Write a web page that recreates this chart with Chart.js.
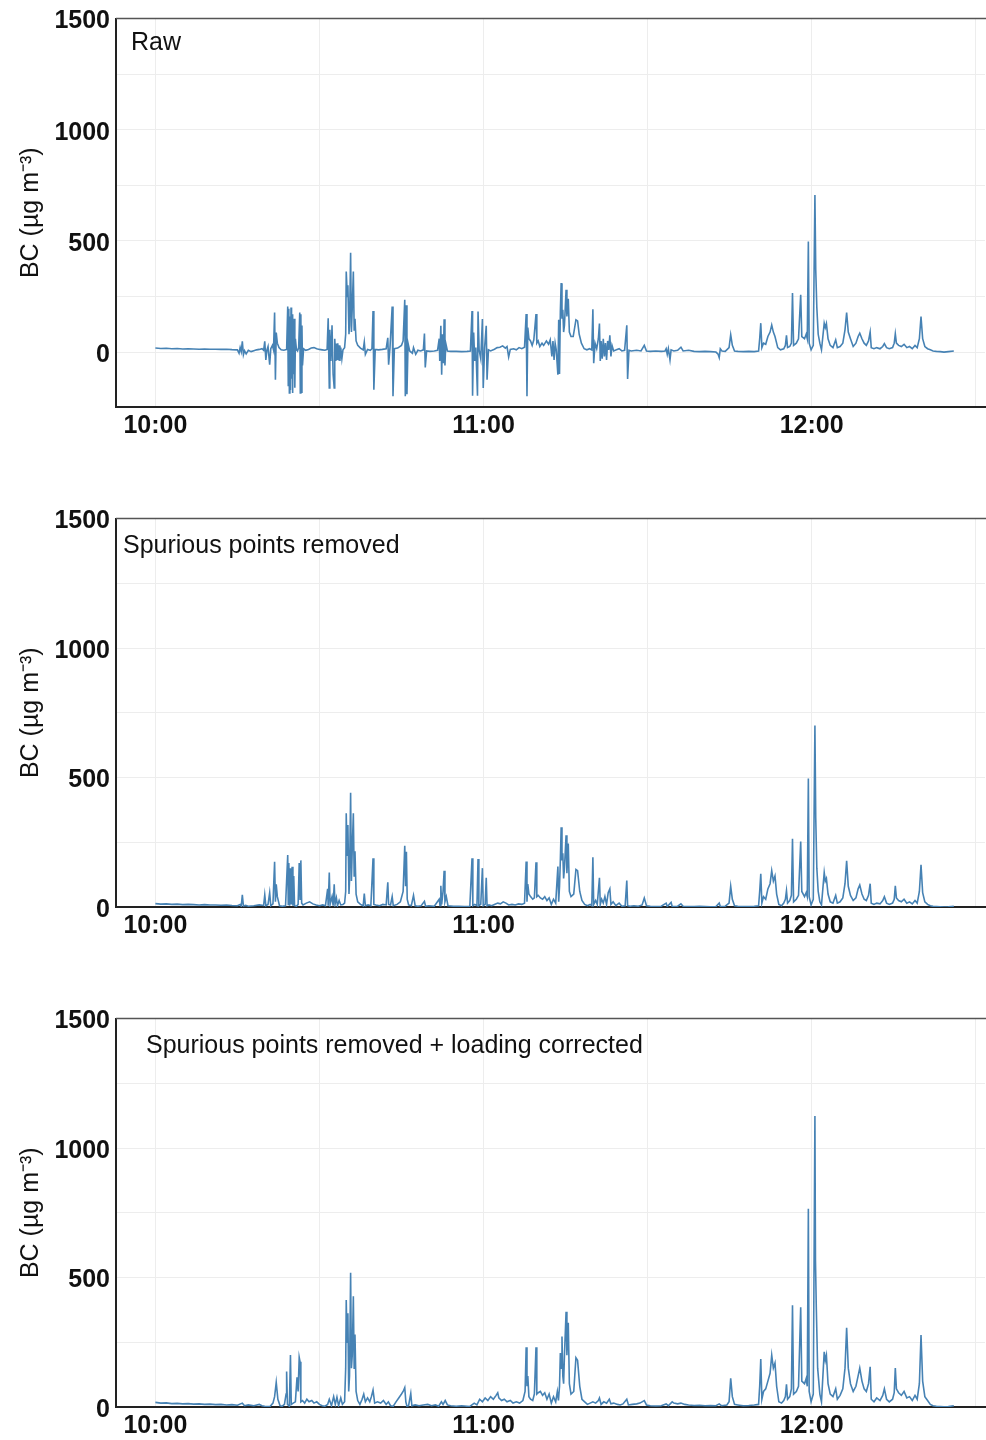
<!DOCTYPE html>
<html>
<head>
<meta charset="utf-8">
<script src="https://cdn.jsdelivr.net/npm/chart.js@4.4.1/dist/chart.umd.min.js"></script>
<style>
    html, body { margin: 0; padding: 0; background: #fff; }
    .panel { position: absolute; left: 0; width: 986px; height: 440px; }
</style>
</head>
<body>
<div class="panel" style="top:0px"><canvas id="graficoRaw" width="986" height="440"></canvas></div>
<div class="panel" style="top:500px"><canvas id="graficoSpurious" width="986" height="440"></canvas></div>
<div class="panel" style="top:1000px"><canvas id="graficoLoading" width="986" height="440"></canvas></div>
<script>
// ================== DATOS ==================
// [minutos desde las 10:00, BC en ug/m3]

const serieRaw = [
    [0,18],[1,16],[2,17],[3,15],[4,16],[5,14],[6,15],[7,14],[8,13],[9,14],[10,13],[11,13],[12,12],[13,13],[14,11],[15,10],
    [15.3,-5],[15.5,20],[15.7,2],[15.9,48],[16.1,-12],[16.3,6],[16.6,-8],[17,8],[17.5,2],[18,6],[18.5,10],[19,12],[19.5,15],[19.8,8],
    [20.0,48],[20.2,-35],[20.4,10],[20.6,25],[20.9,-57],[21.1,15],[21.4,30],[21.6,10],[21.8,178],[21.95,-124],[22.1,88],[22.3,40],[22.6,20],[23,10],[23.5,8],[24,12],
    [24.2,205],[24.3,-150],[24.4,195],[24.5,-184],[24.6,160],[24.7,-170],[24.8,200],[24.9,-120],[25.0,170],[25.1,-184],[25.2,140],[25.3,-100],[25.4,150],[25.5,-160],[25.6,60],[25.8,10],
    [26.0,5],[26.2,20],[26.4,178],[26.5,-184],[26.6,170],[26.7,-180],[26.8,120],[26.9,-60],[27.1,15],[27.5,8],[28,12],[28.5,18],[29,20],[29.5,15],[30,12],[30.5,10],[31,8],[31.4,12],
    [31.6,152],[31.8,-161],[31.9,100],[32.1,-40],[32.3,120],[32.5,-100],[32.7,-161],[32.8,60],[33.0,-40],[33.1,38],[33.2,-35],[33.35,40],[33.5,-38],[33.6,30],[33.75,-40],[33.9,20],[34.1,-30],[34.3,10],[34.6,20],
    [34.8,80],[34.9,362],[35.1,250],[35.2,300],[35.4,80],[35.5,120],[35.7,447],[35.85,90],[36.0,200],[36.2,362],[36.35,100],[36.5,150],[36.7,50],[37,30],[37.5,18],[38,10],[38.2,45],[38.4,-10],[38.8,12],[39.3,8],[39.6,15],
    [39.8,185],[39.95,-169],[40.2,12],[40.8,10],[41.5,12],[42.2,15],[42.5,64],[42.65,-57],[42.9,20],[43.3,205],[43.45,-199],[43.7,15],[44.3,18],[45,30],[45.3,50],
    [45.6,235],[45.7,-199],[45.85,210],[46.0,-190],[46.2,40],[46.5,5],[47,-5],[47.2,20],[47.6,-10],[48,8],[48.5,5],[49.0,10],[49.2,83],[49.35,-69],[49.6,5],[50.2,3],[51,5],[51.6,8],
    [51.9,60],[52.0,-40],[52.2,118],[52.35,-102],[52.5,80],[52.65,-50],[52.8,148],[52.95,-60],[53.1,40],[53.4,5],[54,3],[55,3],[56,2],[57,3],[57.6,5],
    [57.9,185],[58.0,-196],[58.2,88],[58.4,-40],[58.6,20],[58.9,-196],[59.0,182],[59.2,10],[59.5,-30],[59.8,149],[59.95,-161],[60.2,20],[60.5,118],[60.65,-124],[60.9,10],[61.3,5],
    [62,13],[62.5,20],[63,22],[63.5,28],[64,18],[64.3,25],[64.6,-22],[64.9,12],[65.5,15],[66,10],[66.5,20],[67,15],[67.5,22],
    [67.8,171],[67.95,-199],[68.1,110],[68.3,60],[68.6,50],[68.9,30],[69.2,55],[69.6,171],[69.75,40],[70.0,50],[70.3,25],[70.7,40],[71,30],[71.5,50],[71.9,35],[72.2,55],[72.5,-20],[72.7,50],[72.9,-35],[73.1,40],[73.3,10],
    [73.6,-102],[73.75,145],[73.9,-99],[74.05,180],[74.2,310],[74.35,150],[74.5,190],[74.65,90],[74.8,120],[75.1,280],[75.25,160],[75.5,240],[75.7,90],[76,70],[76.4,70],[76.9,145],[77.2,140],[77.5,80],[77.9,40],[78.4,15],[78.9,10],[79.4,15],[79.8,10],
    [80.0,193],[80.15,-50],[80.4,40],[80.7,15],[81.0,60],[81.2,128],[81.35,-40],[81.5,50],[81.7,-30],[81.9,60],[82.1,-20],[82.3,40],[82.5,-35],[82.7,50],[82.9,10],[83.1,75],[83.3,-20],[83.5,30],[83.8,5],
    [84.3,10],[84.8,15],[85.3,5],[85.8,8],[86.2,120],[86.35,-121],[86.6,8],[87,5],[88,8],[88.8,5],[89.4,30],[89.8,5],[90.5,3],[91.5,5],[92.5,3],[93.2,5],[93.4,15],[93.6,-10],[93.8,15],[94.1,-35],[94.3,10],[94.8,5],
    [95.5,8],[96.1,22],[96.5,5],[97.5,8],[98.5,3],[99.5,2],[100.5,3],[101.5,2],[102.5,0],[102.9,-10],[103.1,-25],[103.3,15],[103.6,5],[104.2,3],[104.9,20],[105.2,78],[105.5,30],[105.9,5],
    [106.5,3],[107.5,2],[108.5,3],[109.5,2],[110.3,5],[110.5,60],[110.7,130],[110.9,20],[111.2,40],[111.6,35],[112.0,70],[112.4,90],[112.7,122],[113.0,90],[113.3,70],[113.8,20],[114.3,10],[114.9,15],
    [115.2,30],[115.4,75],[115.6,20],[116.0,25],[116.3,40],[116.5,265],[116.7,30],[117.2,40],[117.6,60],[118.0,258],[118.2,70],[118.7,60],[119.0,80],[119.2,60],[119.4,497],[119.55,40],[119.9,10],[120.3,30],
    [120.6,706],[120.75,370],[120.95,200],[121.2,80],[121.5,40],[121.8,10],[122.3,130],[122.5,110],[122.7,128],[123.0,60],[123.4,30],[123.9,20],[124.4,55],[124.7,20],[125.2,25],[125.7,40],
    [126.1,100],[126.4,178],[126.7,90],[127.1,60],[127.6,25],[128.1,40],[128.5,70],[128.8,85],[129.2,60],[129.6,40],[130.0,30],[130.4,50],[130.7,90],[130.9,20],[131.4,15],[131.9,20],[132.5,15],
    [133.0,25],[133.3,38],[133.7,20],[134.2,15],[134.8,20],[135.1,40],[135.3,82],[135.5,40],[135.9,30],[136.4,25],[136.9,35],[137.4,20],[137.9,25],[138.4,15],[138.9,30],[139.3,20],
    [139.7,60],[140.0,160],[140.3,60],[140.7,25],[141.2,15],[141.7,10],[142.2,5],[142.8,3],[143.5,2],[144.2,0],[145,2],[146,5]
];

const serieSpurious = [
    [0,13],[1,11],[2,12],[3,10],[4,11],[5,9],[6,10],[7,9],[8,8],[9,9],[10,8],[11,8],[12,7],[13,8],[14,6],[15,5],[15.5,10],[15.7,3],[15.9,47],[16.1,4],[16.5,6],[17,3],[18,5],[19,8],[19.8,6],
    [20.0,47],[20.2,5],[20.6,10],[20.9,55],[21.1,5],[21.5,12],[21.8,175],[21.95,20],[22.1,88],[22.3,40],[22.7,5],[23.2,3],[23.8,5],
    [24.2,201],[24.3,10],[24.4,170],[24.55,5],[24.7,150],[24.85,10],[25.0,155],[25.15,5],[25.3,120],[25.45,5],[25.8,3],[26.1,10],[26.3,170],[26.45,30],[26.6,180],[26.75,15],[27.0,8],
    [27.6,15],[28.2,20],[28.8,12],[29.4,8],[30,5],[30.6,8],[31.1,5],[31.5,70],[31.6,5],[31.8,133],[31.95,10],[32.3,40],[32.5,5],[32.7,88],[32.85,10],[33.1,35],[33.3,5],[33.6,25],[33.9,8],[34.3,10],[34.6,15],
    [34.8,60],[34.9,362],[35.05,200],[35.2,317],[35.4,50],[35.5,100],[35.7,441],[35.85,100],[36.0,226],[36.2,362],[36.35,120],[36.5,215],[36.7,50],[37.0,20],[37.5,10],[38.0,5],[38.2,52],[38.4,5],[38.9,8],[39.4,5],
    [39.8,188],[39.95,10],[40.3,8],[41,5],[41.6,10],[42.2,8],[42.5,95],[42.65,10],[43.0,8],[43.3,40],[43.5,5],[44.2,10],[44.8,20],[45.3,60],[45.6,236],[45.75,80],[45.9,213],[46.05,30],[46.3,8],[46.8,5],
    [47.2,45],[47.5,5],[48,3],[48.6,5],[49.2,22],[49.4,3],[50,5],[51,3],[51.9,30],[52.05,5],[52.2,82],[52.35,10],[52.6,60],[52.8,140],[52.95,20],[53.2,40],[53.5,5],[54.5,3],[55.5,3],[56.5,2],[57.5,3],
    [57.9,188],[58.05,5],[58.4,10],[58.8,5],[59.0,185],[59.15,5],[59.5,10],[59.8,150],[59.95,5],[60.3,10],[60.5,113],[60.65,5],[61,8],[61.5,5],[62,10],[62.6,15],[63.1,12],[63.6,20],[64.1,15],[64.6,8],
    [65.2,10],[65.8,8],[66.4,12],[67.0,10],[67.5,15],[67.8,176],[67.95,20],[68.1,88],[68.3,50],[68.6,40],[69.0,30],[69.3,35],[69.6,173],[69.75,40],[70.0,45],[70.4,35],[70.8,30],[71.2,40],[71.6,25],
    [72.0,35],[72.4,10],[72.8,30],[73.2,15],[73.6,156],[73.75,20],[73.9,80],[74.05,180],[74.2,308],[74.35,180],[74.5,207],[74.65,110],[74.8,150],[75.1,277],[75.25,130],[75.5,245],[75.7,60],
    [76.0,40],[76.5,50],[76.9,145],[77.2,140],[77.6,60],[78.0,25],[78.5,10],[79.0,5],[79.5,10],[79.8,5],[80.0,192],[80.15,10],[80.5,25],[80.8,10],[81.2,113],[81.35,10],[81.6,30],[81.9,15],
    [82.2,40],[82.5,10],[82.8,55],[83.1,70],[83.3,10],[83.7,20],[84.2,5],[84.8,15],[85.3,3],[85.9,5],[86.2,102],[86.35,5],[86.8,3],[87.5,5],[88.3,3],[89.0,8],[89.4,35],[89.8,5],[90.5,3],
    [91.5,2],[92.5,3],[93.4,15],[93.6,2],[94.3,18],[94.5,2],[95.5,3],[96.1,12],[96.5,3],[97.5,2],[98.5,2],[99.5,3],[100.5,2],[101.5,1],[102.5,2],[103.1,15],[103.3,2],[104.2,3],[104.9,15],
    [105.2,80],[105.5,30],[105.9,5],[106.5,3],[107.5,2],[108.5,2],[109.5,3],[110.3,5],[110.5,60],[110.7,128],[110.9,15],[111.2,40],[111.6,30],[112.0,70],[112.4,90],[112.7,140],[113.0,100],
    [113.3,120],[113.6,50],[114.0,10],[114.5,5],[114.9,15],[115.2,30],[115.4,63],[115.6,15],[116.0,25],[116.3,45],[116.5,263],[116.7,20],[117.2,30],[117.6,45],[118.0,253],[118.2,60],
    [118.7,40],[119.0,55],[119.2,40],[119.4,496],[119.55,40],[119.9,8],[120.3,30],[120.6,701],[120.75,344],[120.95,150],[121.2,60],[121.5,20],[121.8,8],[122.3,133],[122.5,100],[122.7,110],
    [123.0,50],[123.4,20],[123.9,15],[124.4,45],[124.7,15],[125.2,20],[125.7,35],[126.1,90],[126.4,178],[126.7,80],[127.1,45],[127.6,25],[128.1,35],[128.5,70],[128.8,85],[129.2,50],
    [129.6,30],[130.0,25],[130.4,45],[130.7,90],[130.9,15],[131.4,10],[131.9,15],[132.5,12],[133.0,25],[133.3,40],[133.7,15],[134.2,10],[134.8,15],[135.1,30],[135.3,82],[135.5,35],
    [135.9,25],[136.4,20],[136.9,30],[137.4,15],[137.9,20],[138.4,12],[138.9,25],[139.3,15],[139.7,60],[140.0,163],[140.3,55],[140.7,20],[141.2,10],[141.7,5],[142.2,3],[142.8,2],
    [143.5,1],[144.2,0],[145,1],[146,3]
];

const serieLoading = [
    [0,18],[1,15],[2,16],[3,13],[4,14],[5,12],[6,13],[7,11],[8,12],[9,10],[10,11],[11,9],[12,10],[13,8],[14,9],[15,7],[15.9,15],[16.3,5],[17,8],[18,5],[19,10],[19.5,5],[20,3],[20.5,2],[21,3],
    [21.5,15],[21.8,40],[22.1,95],[22.4,30],[22.8,5],[23.2,3],[23.6,10],[23.9,50],[24.0,137],[24.15,10],[24.5,3],[24.7,201],[24.85,10],[25.2,15],[25.6,20],[25.9,115],[26.1,60],[26.3,192],[26.45,175],
    [26.6,20],[26.9,25],[27.3,15],[27.7,30],[28.1,20],[28.6,25],[29,15],[29.5,20],[30,10],[30.5,5],[31.0,3],[31.5,10],[31.8,30],[32.2,5],[32.6,40],[32.9,10],[33.2,38],[33.5,5],[33.9,35],[34.2,10],[34.6,20],
    [34.8,150],[34.9,413],[35.05,250],[35.2,362],[35.35,60],[35.5,120],[35.7,518],[35.85,150],[36.0,200],[36.2,428],[36.35,150],[36.5,280],[36.7,60],[37.0,25],[37.4,10],[37.8,30],[38.1,50],
    [38.4,20],[38.8,35],[39.2,20],[39.5,40],[39.8,65],[40.1,15],[40.6,20],[41.2,15],[41.7,25],[42.2,10],[42.6,20],[43.0,5],[43.5,3],[44.0,20],[44.5,35],[45.0,50],[45.3,60],[45.6,75],[45.8,20],
    [46.0,3],[46.3,5],[46.7,52],[46.9,5],[47.5,8],[48.2,5],[49,8],[49.8,10],[50.5,5],[51.2,8],[51.8,3],[52.3,20],[52.6,10],[53.0,25],[53.4,8],[54,5],[55,3],[56,5],[57,3],[57.5,2],[58.3,15],
    [58.8,8],[59.3,30],[59.8,20],[60.3,35],[60.8,25],[61.3,40],[61.8,30],[62.3,45],[62.6,55],[62.8,35],[63.3,25],[63.8,30],[64.3,20],[64.9,25],[65.4,15],[66,20],[66.6,15],[67.2,25],[67.6,60],
    [67.8,231],[67.95,80],[68.1,120],[68.3,40],[68.6,30],[69.0,25],[69.3,50],[69.6,231],[69.75,50],[70.0,55],[70.4,60],[70.8,45],[71.2,55],[71.6,30],[72.0,50],[72.4,15],[72.8,40],[73.2,20],
    [73.5,60],[73.7,25],[73.9,80],[74.05,208],[74.2,150],[74.35,272],[74.5,120],[74.65,90],[74.8,200],[75.1,368],[75.25,200],[75.5,325],[75.7,90],[76.0,50],[76.5,60],[76.9,190],[77.2,180],
    [77.6,80],[78.0,30],[78.5,20],[79.0,10],[79.5,15],[80.0,20],[80.5,15],[81.0,25],[81.2,35],[81.5,10],[82.0,20],[82.5,15],[83.0,30],[83.3,12],[83.8,15],[84.5,10],[85.0,8],[85.5,12],
    [86.2,30],[86.5,8],[87.2,10],[88.0,12],[88.6,15],[89.4,25],[89.8,8],[90.5,5],[91.5,4],[92.5,5],[93.4,12],[93.8,5],[94.5,20],[94.8,15],[95.5,12],[96.1,15],[96.8,10],[97.5,8],[98.5,6],
    [99.5,7],[100.5,5],[101.5,6],[102.5,5],[103.1,12],[103.5,5],[104.5,8],[104.9,20],[105.2,111],[105.5,40],[105.9,10],[106.5,8],[107.5,5],[108.5,6],[109.5,8],[110.3,10],[110.5,80],[110.7,185],
    [110.9,30],[111.2,60],[111.6,70],[112.0,100],[112.4,130],[112.7,200],[113.0,150],[113.3,170],[113.6,80],[114.0,20],[114.5,15],[114.9,25],[115.2,40],[115.4,88],[115.6,30],[116.0,40],
    [116.3,70],[116.5,393],[116.7,50],[117.2,60],[117.6,80],[118.0,385],[118.2,100],[118.7,90],[119.0,110],[119.2,80],[119.4,765],[119.55,60],[119.9,20],[120.3,50],[120.6,1124],[120.7,567],
    [120.85,387],[121.1,150],[121.5,50],[121.8,20],[122.3,213],[122.5,180],[122.7,200],[123.0,90],[123.4,50],[123.9,40],[124.4,70],[124.7,30],[125.2,45],[125.7,70],[126.1,150],[126.4,306],
    [126.7,150],[127.1,90],[127.6,60],[128.1,80],[128.5,120],[128.8,150],[129.2,100],[129.6,70],[130.0,60],[130.4,90],[130.7,155],[130.9,30],[131.4,20],[131.9,35],[132.5,25],[133.0,45],
    [133.3,70],[133.7,30],[134.2,20],[134.8,30],[135.1,55],[135.3,150],[135.5,70],[135.9,55],[136.4,45],[136.9,60],[137.4,35],[137.9,40],[138.4,25],[138.9,45],[139.3,30],[139.7,90],
    [140.0,278],[140.3,100],[140.7,40],[141.2,25],[141.7,10],[142.2,5],[142.8,3],[143.5,2],[144.2,1],[145,2],[146,5]
];

const titulosPanel = ["Raw", "Spurious points removed", "Spurious points removed + loading corrected"];
const minimosY = [-247, 0, 0];
const lineasY = [0, 250, 500, 750, 1000, 1250, 1500];
const etiquetasY = [0, 500, 1000, 1500];
const lineasX = [0, 30, 60, 90, 120, 150];
const etiquetasX = { 0: "10:00", 60: "11:00", 120: "12:00" };

// ================== ESTILO ==================

const FUENTE = "'Liberation Sans', Arial, Helvetica, sans-serif";
const COLOR_LINEA = "#4682B4";
const COLOR_GRILLA = "#EDEDED";
const X_MIN = -7.2, X_MAX = 151.7;

Chart.defaults.font.family = FUENTE;
Chart.defaults.color = "#111";

// texto de cada panel + borde superior
const rotuloPanel = {
    id: "rotuloPanel",
    afterDraw(chart, args, opts) {
        const { ctx, chartArea: a } = chart;
        ctx.save();
        ctx.strokeStyle = "#555";
        ctx.lineWidth = 1.5;
        ctx.beginPath();
        ctx.moveTo(a.left, a.top);
        ctx.lineTo(a.right + 1, a.top);
        ctx.stroke();

        ctx.fillStyle = "#111";
        ctx.font = "25px " + FUENTE;
        ctx.textBaseline = "middle";
        ctx.textAlign = "left";
        ctx.fillText(opts.texto, a.left + opts.dx, a.top + opts.dy);
        ctx.restore();
    }
};

const posRotulo = [[15, 25], [7, 28], [30, 28]];

function crearPanel(idCanvas, serie, i) {
    const ctx = document.getElementById(idCanvas);
    return new Chart(ctx, {
        type: "line",
        data: {
            datasets: [{
                data: serie.map(p => ({ x: p[0], y: p[1] })),
                borderColor: COLOR_LINEA,
                borderWidth: 1.6,
                pointRadius: 0,
                tension: 0,
                fill: false
            }]
        },
        options: {
            responsive: false,
            animation: false,
            devicePixelRatio: 1,
            layout: { padding: { top: 18, right: 1, left: 0, bottom: 0 } },
            plugins: {
                legend: { display: false },
                tooltip: { enabled: false },
                rotuloPanel: { texto: titulosPanel[i], dx: posRotulo[i][0], dy: posRotulo[i][1] }
            },
            scales: {
                x: {
                    type: "linear",
                    min: X_MIN,
                    max: X_MAX,
                    afterFit: s => { s.height = 33; },
                    afterBuildTicks: s => { s.ticks = lineasX.map(v => ({ value: v })); },
                    ticks: {
                        autoSkip: false,
                        maxRotation: 0,
                        padding: 4,
                        color: "#111",
                        font: { size: 25, weight: "bold" },
                        callback: v => etiquetasX[v] || ""
                    },
                    grid: { color: COLOR_GRILLA, lineWidth: 1, drawTicks: false },
                    border: { color: "#222", width: 2 }
                },
                y: {
                    min: minimosY[i],
                    max: 1500,
                    afterFit: s => { s.width = 116; },
                    afterBuildTicks: s => { s.ticks = lineasY.map(v => ({ value: v })); },
                    ticks: {
                        autoSkip: false,
                        padding: 6,
                        labelOffset: 3,
                        color: "#111",
                        font: { size: 25, weight: "bold", lineHeight: 1 },
                        callback: v => etiquetasY.includes(v) ? String(v) : ""
                    },
                    grid: { color: COLOR_GRILLA, lineWidth: 1, drawTicks: false },
                    border: { color: "#222", width: 2 },
                    title: {
                        display: true,
                        text: "BC (µg m⁻³)",
                        color: "#111",
                        font: { size: 25 },
                        padding: { top: 16, bottom: 0 }
                    }
                }
            }
        },
        plugins: [rotuloPanel]
    });
}

crearPanel("graficoRaw", serieRaw, 0);
crearPanel("graficoSpurious", serieSpurious, 1);
crearPanel("graficoLoading", serieLoading, 2);
</script>
</body>
</html>
